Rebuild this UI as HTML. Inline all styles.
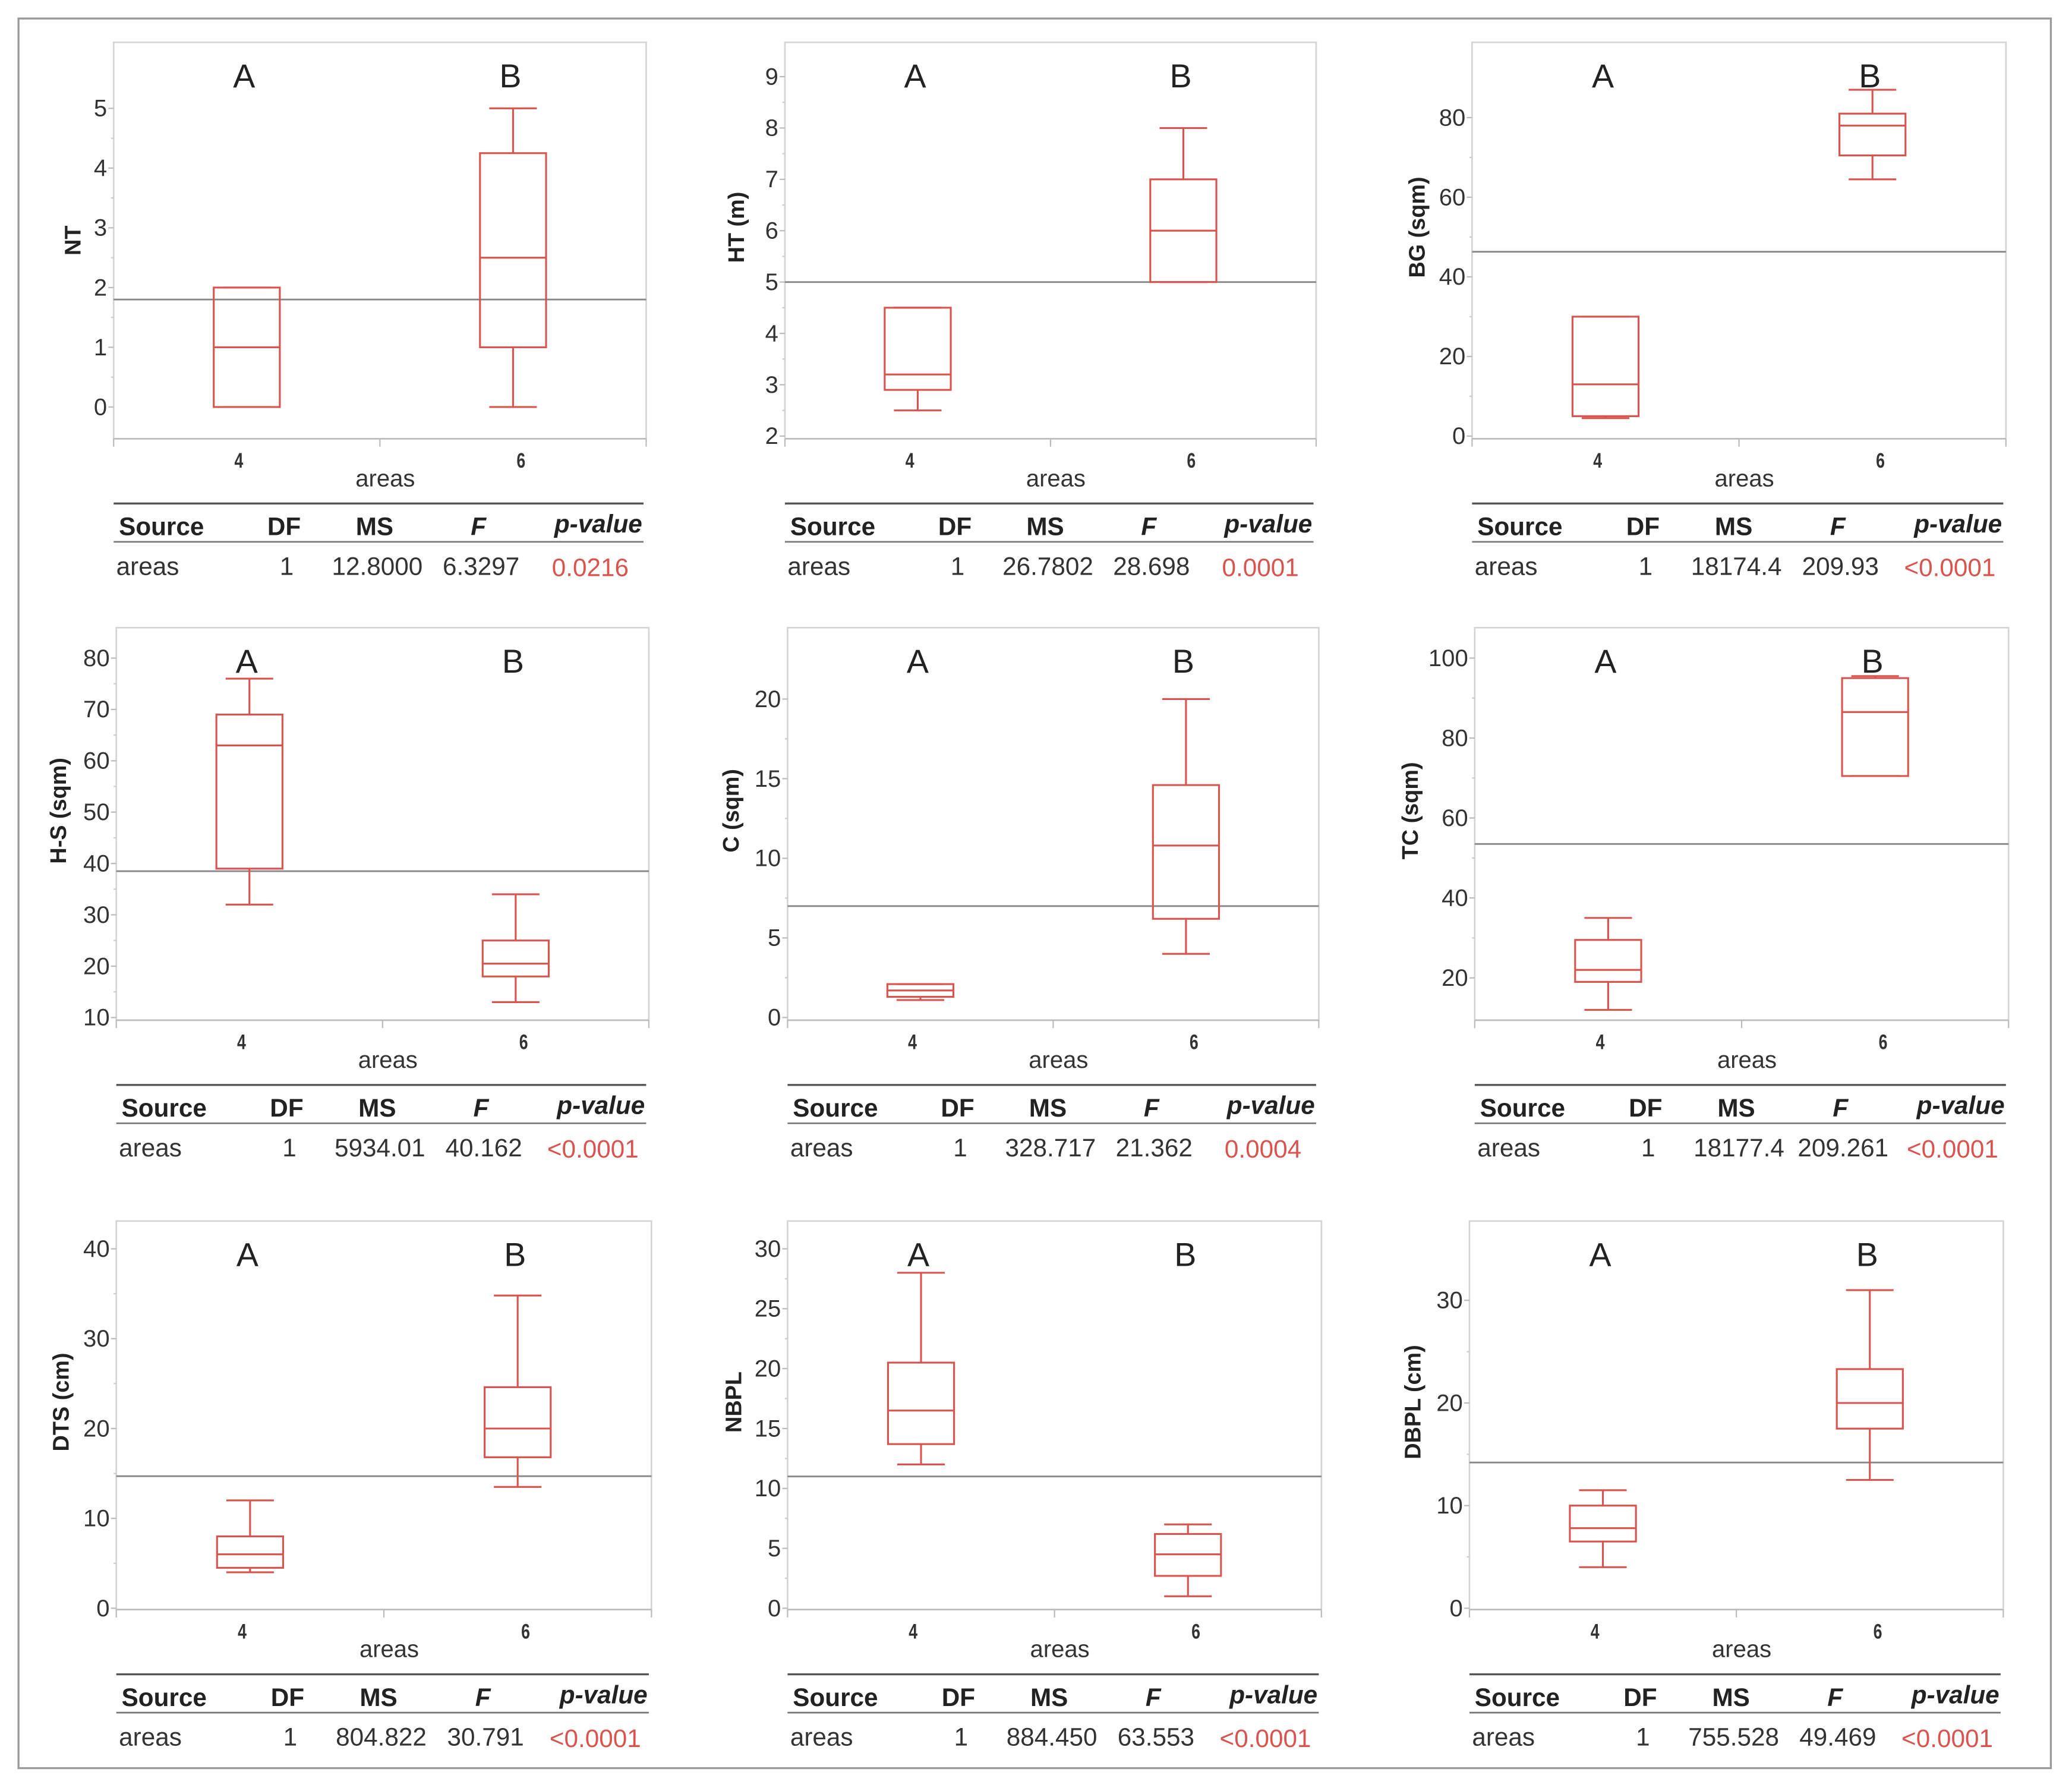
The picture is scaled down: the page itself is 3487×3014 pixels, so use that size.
<!DOCTYPE html>
<html><head><meta charset="utf-8"><style>
html,body{margin:0;padding:0;background:#fff;}
svg{display:block;}
text{font-family:"Liberation Sans",sans-serif;}
</style></head><body>
<svg id="fig" width="3487" height="3014" viewBox="0 0 1568 1355.3" preserveAspectRatio="none" xmlns="http://www.w3.org/2000/svg">
<rect x="14" y="14" width="1538" height="1324" fill="#fff" stroke="#9a9a9a" stroke-width="1.5"/>
</svg>
<script>
const yLabels=["NT","HT (m)","BG (sqm)","H-S (sqm)","C (sqm)","TC (sqm)","DTS (cm)","NBPL","DBPL (cm)"];
const yTicks=[[0,1,2,3,4,5],[2,3,4,5,6,7,8,9],[0,20,40,60,80],[10,20,30,40,50,60,70,80],[0,5,10,15,20],[20,40,60,80,100],[0,10,20,30,40],[0,5,10,15,20,25,30],[0,10,20,30]];
const refMeans=[1.8,5,46.3,38.5,7,53.5,14.7,11,14.2];
const mins=[[0,0],[2.5,5],[4.5,64.5],[32,13],[1.1,4],[12,70.5],[4,13.5],[12,1],[4,12.5]];
const q1s=[[0,1],[2.9,5],[5,70.5],[39,18],[1.3,6.2],[19,70.5],[4.5,16.8],[13.7,2.7],[6.5,17.5]];
const medians=[[1,2.5],[3.2,6],[13,78],[63,20.5],[1.7,10.8],[22,86.5],[6,20],[16.5,4.5],[7.8,20]];
const q3s=[[2,4.25],[4.5,7],[30,81],[69,25],[2.1,14.6],[29.5,95],[8,24.6],[20.5,6.2],[10,23.3]];
const maxs=[[2,5],[4.5,8],[30,87],[76,34],[2.1,20],[35,95.5],[12,34.8],[28,7],[11.5,31]];
const groups=["4","6"];
const letters=[["A","B"],["A","B"],["A","B"],["A","B"],["A","B"],["A","B"],["A","B"],["A","B"],["A","B"]];
const msVals=["12.8000","26.7802","18174.4","5934.01","328.717","18177.4","804.822","884.450","755.528"];
const fVals=["6.3297","28.698","209.93","40.162","21.362","209.261","30.791","63.553","49.469"];
const pVals=["0.0216","0.0001","<0.0001","<0.0001","0.0004","<0.0001","<0.0001","<0.0001","<0.0001"];
// layout (not data)
const boxes=[[86,32,489,332],[594,32,996,332],[1114,32,1518,332],[88,475,491,772],[596,475,998,772],[1116,475,1520,772],[88,924,493,1218],[596,924,1000,1218],[1112,924,1516,1218]];
const axisMap=[[308,82],[330,58],[330,89],[770,498],[770,529],[740,498],[1217,945],[1217,945],[1217,984]];
const titleOffsets=[31,37,42,44,43,49,42,41,43];
const NS="http://www.w3.org/2000/svg";
const svg=document.getElementById('fig');
function mk(tag,attrs,parent,txt){const e=document.createElementNS(NS,tag);for(const k in attrs)e.setAttribute(k,attrs[k]);if(txt!==undefined)e.textContent=txt;(parent||svg).appendChild(e);return e;}
for(let p=0;p<9;p++){
  const [x0,y0,x1,y1]=boxes[p];const w=x1-x0;
  const g=mk('g',{});
  
  
  const t=yTicks[p];const v0=t[0],v1=t[t.length-1];const [py0,py1]=axisMap[p];
  const Y=v=>py0+(v-v0)*(py1-py0)/(v1-v0);
  const X=i=>x0+w*(i===0?0.25:0.75);
  const fr=mk('rect',{x:x0,y:y0,width:w,height:y1-y0,fill:'none',stroke:'#d4d4d4','stroke-width':1.2},g);
  
  mk('line',{x1:x0,y1:y1,x2:x1,y2:y1,stroke:'#bbb','stroke-width':1.2},g);
  [0,0.5,1].forEach(f=>mk('line',{x1:x0+w*f,y1:y1,x2:x0+w*f,y2:y1+6,stroke:'#bbb','stroke-width':1},g));
  const step=t[1]-t[0];
  for(let k=0;k<t.length;k++){
    const yy=Y(t[k]);
    mk('line',{x1:x0-4,y1:yy,x2:x0,y2:yy,stroke:'#bbb','stroke-width':1},g);
    const lb=mk('text',{x:x0-5,y:yy+6,'text-anchor':'end','font-size':18,fill:'#333'},g,String(t[k]));
    
    if(k<t.length-1){const ym=Y(t[k]+step/2);mk('line',{x1:x0-2,y1:ym,x2:x0,y2:ym,stroke:'#ccc','stroke-width':1},g);}
  }
  const yl=mk('text',{x:0,y:0,transform:`translate(${x0-titleOffsets[p]+6},${(y0+y1)/2+(p===0?0:-10)}) rotate(-90)`,'text-anchor':'middle','font-size':17,'font-weight':'bold',fill:'#222'},g,yLabels[p]);
  
  const rl=mk('line',{x1:x0,y1:Y(refMeans[p]),x2:x1,y2:Y(refMeans[p]),stroke:'#888','stroke-width':1.3},g);
  
  for(let i=0;i<2;i++){
    const cx=X(i),hw=25,cw=18;
    const bg=mk('g',{stroke:'#d9534f','stroke-width':1.4,fill:'none'},g);
    
    mk('rect',{x:cx-hw,y:Y(q3s[p][i]),width:2*hw,height:Math.max(0.5,Y(q1s[p][i])-Y(q3s[p][i]))},bg);
    mk('line',{x1:cx-hw,y1:Y(medians[p][i]),x2:cx+hw,y2:Y(medians[p][i])},bg);
    mk('line',{x1:cx,y1:Y(q3s[p][i]),x2:cx,y2:Y(maxs[p][i])},bg);
    mk('line',{x1:cx,y1:Y(q1s[p][i]),x2:cx,y2:Y(mins[p][i])},bg);
    mk('line',{x1:cx-cw,y1:Y(maxs[p][i]),x2:cx+cw,y2:Y(maxs[p][i])},bg);
    mk('line',{x1:cx-cw,y1:Y(mins[p][i]),x2:cx+cw,y2:Y(mins[p][i])},bg);
    const lt=mk('text',{x:cx-2,y:y0+34,'text-anchor':'middle','font-size':25,fill:'#222'},g,letters[p][i]);
    
    const tx=cx+(i===0?-6:6);
    const xt=mk('text',{x:tx,y:y1+22,'text-anchor':'middle','font-size':16,'font-weight':'bold',fill:'#333',transform:`translate(${tx},0) scale(0.75,1) translate(${-tx},0)`},g,groups[i]);
    
  }
  const xa=mk('text',{x:x0+w*0.51,y:y1+36,'text-anchor':'middle','font-size':18,fill:'#333'},g,'areas');
  
  const tb=mk('g',{},g);
  
  const ty=y1+49;
  mk('line',{x1:x0,y1:ty,x2:x1-2,y2:ty,stroke:'#555','stroke-width':1.5},tb);
  mk('line',{x1:x0,y1:ty+29,x2:x1-2,y2:ty+29,stroke:'#777','stroke-width':1.2},tb);
  const hy=ty+24,ry=ty+54;
  mk('text',{x:x0+4,y:hy,'font-size':19,'font-weight':'bold',fill:'#222'},tb,'Source');
  mk('text',{x:x0+w*0.32,y:hy,'text-anchor':'middle','font-size':19,'font-weight':'bold',fill:'#222'},tb,'DF');
  mk('text',{x:x0+w*0.49,y:hy,'text-anchor':'middle','font-size':19,'font-weight':'bold',fill:'#222'},tb,'MS');
  mk('text',{x:x0+w*0.685,y:hy,'text-anchor':'middle','font-size':19,'font-weight':'bold','font-style':'italic',fill:'#222'},tb,'F');
  mk('text',{x:x1-3,y:hy-2,'text-anchor':'end','font-size':19,'font-weight':'bold','font-style':'italic',fill:'#222'},tb,'p-value');
  mk('text',{x:x0+2,y:ry,'font-size':19,fill:'#333'},tb,'areas');
  mk('text',{x:x0+w*0.325,y:ry,'text-anchor':'middle','font-size':19,fill:'#333'},tb,'1');
  mk('text',{x:x0+w*0.495,y:ry,'text-anchor':'middle','font-size':19,fill:'#333'},tb,msVals[p]);
  mk('text',{x:x0+w*0.69,y:ry,'text-anchor':'middle','font-size':19,fill:'#333'},tb,fVals[p]);
  mk('text',{x:x0+w*0.895,y:ry+1,'text-anchor':'middle','font-size':19,fill:'#d9534f'},tb,pVals[p]);
}
</script>
</body></html>
